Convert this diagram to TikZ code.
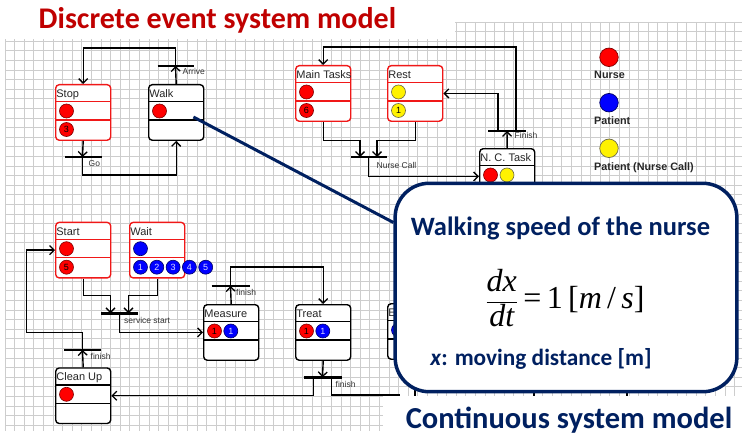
\documentclass[tikz,border=0pt]{standalone}
\usepackage{fontspec}
\setmainfont{Liberation Sans}
\newfontfamily\calibrifont{Carlito}
\newfontfamily\timesfont{Liberation Serif}
\usetikzlibrary{arrows.meta}

\definecolor{calloutblue}{HTML}{002060}
\definecolor{titlered}{HTML}{C00000}
\definecolor{gridgray}{HTML}{CDCDCD}
\definecolor{boxred}{HTML}{F01818}

% state box: name, left x, top y, title, border colour
\newcommand\mkstate[5]{%
  \node[stbox, draw=#5, anchor=north west] (#1) at (#2,#3) {};
  \draw[draw=#5, line width=1.4pt]
    ([yshift=-17.5pt]#1.north west) -- ([yshift=-17.5pt]#1.north east)
    ([yshift=-36pt]#1.north west) -- ([yshift=-36pt]#1.north east);
  \node[ttl, anchor=base west] (#1-t) at ([xshift=1.2pt,yshift=-13.6pt]#1.north west) {#4};
}
% transition bar centred on a named coordinate
\newcommand\mkbar[4]{% name, x, y, half width
  \coordinate (#1) at (#2,#3);
  \draw[tbar] ([xshift=-#4pt]#1) -- ([xshift=#4pt]#1);
}

\begin{document}
\begin{tikzpicture}[x=1pt,y=-1pt,
  gridln/.style={gridgray, line width=0.9pt},
  stbox/.style={rectangle, rounded corners=3.5pt, line width=1.4pt,
    minimum width=55pt, minimum height=55.5pt, inner sep=0pt, fill=white},
  ttl/.style={font=\fontsize{11}{11}\selectfont, text=black!85, inner sep=0pt},
  wire/.style={line width=1.4pt, black},
  wirea/.style={wire, -{Straight Barb[length=4.5pt,width=9pt,line width=1.3pt]}},
  tbar/.style={line width=2.8pt, black},
  tok/.style={circle, minimum size=14pt, inner sep=0pt, line width=0.6pt,
    font=\fontsize{9}{9}\selectfont},
  rtok/.style={tok, fill=red, draw=red!50!black},
  btok/.style={tok, fill=blue, draw=blue!40!black, text=white!85!blue},
  ytok/.style={tok, fill=yellow, draw=yellow!35!black},
  lbl/.style={font=\fontsize{8.5}{9}\selectfont, text=black!80, inner sep=0pt, anchor=base west},
  legtxt/.style={font=\bfseries\fontsize{10.8}{11}\selectfont, text=black!85, inner sep=0pt, anchor=base west},
  legtok/.style={circle, minimum size=18.5pt, inner sep=0pt, line width=0.7pt},
]
\useasboundingbox (0,0) rectangle (742,436);
\fill[white] (0,0) rectangle (742,436);

% background grid
\foreach \i in {0,...,76} {\draw[gridln] ({5+9.6*\i},22) -- ({5+9.6*\i},431);}
\foreach \j in {0,...,42} {\draw[gridln] (5,{22+9.6*\j}) -- (742,{22+9.6*\j});}

% ---------- nurse cycle ----------
\mkstate{stop}{55}{84}{Stop}{boxred}
\mkstate{walk}{148}{84}{Walk}{black}
\mkbar{bArr}{175.5}{66}{18}
\mkbar{bGo}{83.5}{157}{18.5}
\draw[wirea] (walk.north) -- (bArr);
\draw[wirea] (bArr) -- ++(0,-18) -| (stop.north);
\draw[wirea] (stop.south) -- ([xshift=-1pt]bGo);
\draw[wirea] ([xshift=-1pt]bGo) -- ++(0,18) -| (walk.south);
\node[lbl] (lArr) at (182.5,75) {Arrive};
\node[lbl] (lGo) at (88.5,166.5) {Go};

\node[rtok] (stop-a) at (66.5,111) {};
\node[rtok] (stop-b) at (66.5,129.5) {3};
\node[rtok] (walk-a) at (159.5,111) {};

% ---------- nurse call ----------
\mkstate{main}{295}{65}{Main Tasks}{boxred}
\mkstate{rest}{387}{65}{Rest}{boxred}
\mkstate{nct}{479}{148}{N. C. Task}{black}
\mkbar{bNC}{368.5}{157}{18}
\mkbar{bFin}{507}{131}{19}
\draw[wirea] (main.south) -- ++(0,18.5) -| ([xshift=-8.5pt]bNC);
\draw[wirea] (rest.south) -- ++(0,18.5) -| ([xshift=8.5pt]bNC);
\draw[wirea] (bNC) |- (nct.west);
\draw[wirea] (nct.north) -- (bFin);
\draw[wirea] ([xshift=9pt]bFin) -- ++(0,-84) -| (main.north);
\draw[wirea] ([xshift=-9pt]bFin) |- (rest.east);
\node[lbl] (lNC) at (376.5,168) {Nurse Call};
\node[lbl] (lFin) at (514.5,139) {Finish};

\node[rtok] (main-a) at (306.5,92) {};
\node[rtok] (main-b) at (306.5,110.5) {6};
\node[ytok] (rest-a) at (398.5,92) {};
\node[ytok] (rest-b) at (398.5,110.5) {1};
\node[rtok] (nct-a) at (490.5,175) {};
\node[ytok] (nct-b) at (507,175) {};

% ---------- patient service ----------
\mkstate{start}{55}{221.7}{Start}{boxred}
\mkstate{wait}{129}{221.7}{Wait}{boxred}
\mkstate{measure}{203}{304}{Measure}{black}
\mkstate{treat}{295}{304}{Treat}{black}
\mkstate{ebox}{387}{303}{E}{black}
\mkstate{cleanup}{55}{367.3}{Clean Up}{black}
\mkbar{bSS}{119.5}{313.3}{18.5}
\mkbar{bM}{230.5}{286}{19}
\mkbar{bT}{322.5}{377.3}{19}
\mkbar{bC}{82.5}{350}{18.5}
\coordinate (offR) at (400,395);

\draw[wirea] (start.south) -- ++(0,17) -| ([xshift=-9pt]bSS);
\draw[wirea] (wait.south) -- ++(0,17) -| ([xshift=9pt]bSS);
\draw[wirea] (bSS) |- (measure.west);
\draw[wirea] (measure.north) -- (bM);
\draw[wirea] (bM) -- ++(0,-19) -| (treat.north);
\draw[wirea] (treat.south) -- (bT);
\draw[wirea] ([xshift=-9pt]bT) |- (cleanup.east);
\draw[wire] ([xshift=9pt]bT) |- (offR);
\draw[wirea] (cleanup.north) -- (bC);
\draw[wirea] (bC) -- ++(0,-17.7) -| ([xshift=-28.3pt]start.west) -- (start.west);
\draw[wire] (415,360) -- (415,398) (534,360) -- (534,398) (627,360) -- (627,398);

\node[lbl] (lSS) at (124,323.3) {service start};
\node[lbl] (lFM) at (236,295) {finish};
\node[lbl] (lFT) at (335.5,387.3) {finish};
\node[lbl] (lFC) at (90.5,359.3) {finish};

\node[rtok] (start-a) at (66.5,248.7) {};
\node[rtok] (start-b) at (66.5,267.2) {5};
\node[btok] (wait-a) at (140.5,248.7) {};
\foreach \k [count=\n] in {140.5,156.8,173.1,189.4,205.7}
  {\node[btok] (wait-q\n) at (\k,267.2) {\n};}
\node[rtok] (measure-a) at (214.5,331) {1};
\node[btok] (measure-b) at (230.8,331) {1};
\node[rtok] (treat-a) at (306.5,331) {1};
\node[btok] (treat-b) at (322.8,331) {1};
\node[btok] (ebox-a) at (398.5,330) {};
\node[rtok] (cleanup-a) at (66.5,394.3) {};

% ---------- legend ----------
\node[legtok, fill=red, draw=red!50!black] (legN) at (609,57.3) {};
\node[legtok, fill=blue, draw=blue!40!black] (legP) at (609,102.7) {};
\node[legtok, fill=yellow, draw=yellow!35!black] (legC) at (609,148.3) {};
\node[legtxt] (legNt) at (594,79) {Nurse};
\node[legtxt] (legPt) at (594,124.5) {Patient};
\node[legtxt] (legCt) at (594,170) {Patient (Nurse Call)};

% white areas behind the headings
\fill[white] (0,0) rectangle (455,39.5);
\fill[white] (383,395.5) rectangle (742,436);

% ---------- continuous model callout ----------
\node[draw=calloutblue, line width=3.5pt, fill=white, rounded corners=34pt,
  minimum width=341.7pt, minimum height=208.4pt, inner sep=0pt] (callout) at (566,287.5) {};
\draw[calloutblue, line width=3pt] ([xshift=-11pt,yshift=-33pt]walk.north east)
  -- ([yshift=65pt]callout.west);

\node[font=\calibrifont\bfseries\fontsize{26.5}{28}\selectfont, text=calloutblue,
  anchor=base, inner sep=0pt] (cTitle) at (560.5,235) {Walking speed of the nurse};
\node[font=\fontsize{32}{34}\selectfont, inner sep=0pt] (cEq) at (565,298)
  {$\displaystyle\frac{\mbox{\timesfont\itshape dx}}{\mbox{\timesfont\itshape dt}}$%
   {\timesfont\,=\,1\,[\textit{m}\,/\,\textit{s}]}};
\node[font=\calibrifont\bfseries\fontsize{23.3}{25}\selectfont, text=calloutblue,
  anchor=base, inner sep=0pt] (cVar) at (541,365) {\textit{x}: moving distance [m]};

% ---------- headings ----------
\node[font=\calibrifont\bfseries\fontsize{30}{32}\selectfont, text=titlered,
  anchor=base, inner sep=0pt] (hDisc) at (217.5,28.3) {Discrete event system model};
\node[font=\calibrifont\bfseries\fontsize{30.5}{32}\selectfont, text=calloutblue,
  anchor=base, inner sep=0pt] (hCont) at (569,428) {Continuous system model};
\end{tikzpicture}
\end{document}
